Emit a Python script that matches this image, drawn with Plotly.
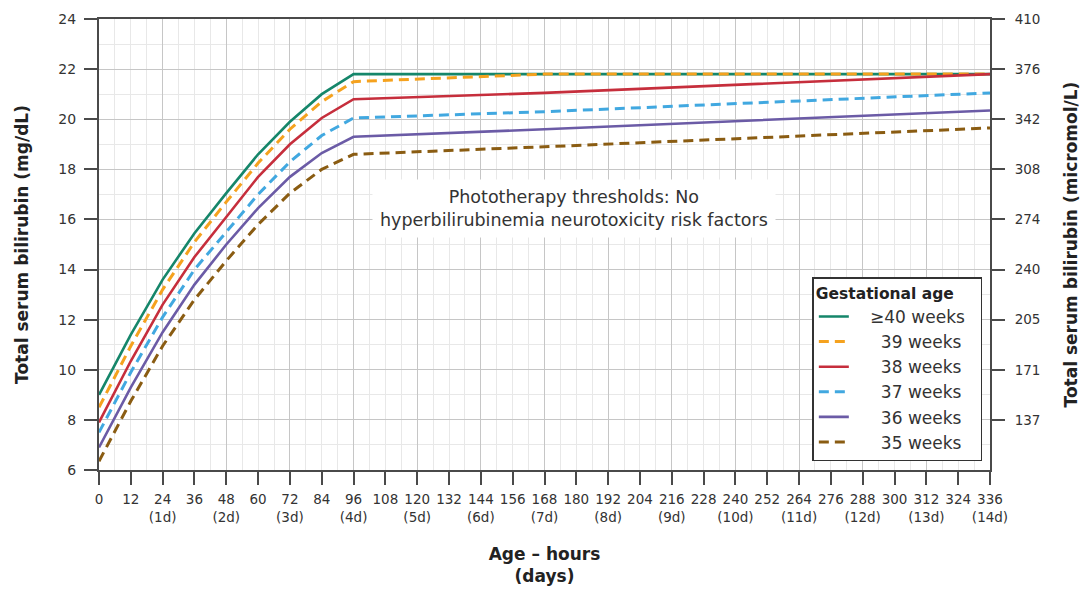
import plotly.graph_objects as go

# ---------------- data ----------------
hours = [0, 12, 24, 36, 48, 60, 72, 84, 96, 168, 336]

NB = "\u00a0"
series_names = [NB * 3 + "≥40 weeks" + NB * 2, NB * 5 + "39 weeks" + NB * 2, NB * 5 + "38 weeks" + NB * 2,
                NB * 5 + "37 weeks" + NB * 2, NB * 5 + "36 weeks" + NB * 2, NB * 5 + "35 weeks" + NB * 2]

tsb_40 = [9.0, 11.4, 13.6, 15.45, 17.05, 18.6, 19.9, 21.0, 21.8, 21.8, 21.8]
tsb_39 = [8.5, 10.95, 13.2, 15.1, 16.7, 18.25, 19.6, 20.7, 21.5, 21.8, 21.8]
tsb_38 = [7.9, 10.35, 12.6, 14.5, 16.1, 17.7, 19.0, 20.05, 20.8, 21.05, 21.8]
tsb_37 = [7.5, 9.9, 12.1, 14.0, 15.5, 17.0, 18.3, 19.35, 20.05, 20.3, 21.05]
tsb_36 = [6.9, 9.3, 11.5, 13.4, 15.0, 16.45, 17.7, 18.65, 19.3, 19.6, 20.35]
tsb_35 = [6.35, 8.75, 10.95, 12.8, 14.35, 15.8, 17.05, 18.0, 18.6, 18.9, 19.65]

x_tick_vals = list(range(0, 337, 12))
x_tick_text = [f"{h}<br>({h // 24}d)" if (h % 24 == 0 and h > 0) else str(h) for h in x_tick_vals]

y_tick_vals = [6, 8, 10, 12, 14, 16, 18, 20, 22, 24]
y2_tick_vals = [8, 10, 12, 14, 16, 18, 20, 22, 24]
y2_tick_text = ["137", "171", "205", "240", "274", "308", "342", "376", "410"]

# ---------------- style ----------------
FONT = "DejaVu Sans"
TXT = "#333333"
AXC = "#4a4a4a"
MAJOR_GRID = "#c6c6c6"
MINOR_GRID = "#e8e8e8"

styles = [
    dict(color="#15866a", dash="solid", width=2.6),
    dict(color="#f5a21e", dash="10px,6px", width=3),
    dict(color="#c62e3c", dash="solid", width=2.6),
    dict(color="#41a8e0", dash="10px,6px", width=3),
    dict(color="#6b5ba6", dash="solid", width=2.6),
    dict(color="#8a5c12", dash="10px,6px", width=3),
]
all_series = [tsb_40, tsb_39, tsb_38, tsb_37, tsb_36, tsb_35]
# axes for each trace (identical scales; secondary axes carry the 24 h grid and the micromol/L scale)
trace_axes = [("x", "y"), ("x", "y"), ("x2", "y"), ("x", "y"), ("x", "y2"), ("x", "y")]

fig = go.Figure()
for name, vals, st, (xa, ya) in zip(series_names, all_series, styles, trace_axes):
    fig.add_trace(go.Scatter(x=hours, y=vals, mode="lines", name=name,
                             line=st, hoverinfo="skip", xaxis=xa, yaxis=ya))

minor_x = [h for h in range(6, 336, 6) if h % 24 != 0]

# the page body adds an 8 px margin, so the figure is 8 px smaller and shifted accordingly
fig.update_layout(
    width=1081, height=587,
    margin=dict(l=91, r=99, t=11, b=125),
    paper_bgcolor="white", plot_bgcolor="white",
    font=dict(family=FONT, color=TXT, size=13),
    showlegend=True,
    legend=dict(
        x=0.8006, y=0.4273, xanchor="left", yanchor="top",
        bgcolor="white", bordercolor="#333333", borderwidth=1.5,
        font=dict(family=FONT, size=17, color=TXT),
        title=dict(text="<b>Gestational age</b>", font=dict(family=FONT, size=15.5, color="#222222"),
                   side="top"),
        itemwidth=30,
    ),
    xaxis=dict(
        range=[0, 336], tickmode="array", tickvals=x_tick_vals, ticktext=x_tick_text,
        tickangle=0, automargin=False,
        ticks="outside", ticklen=13, tickwidth=1.6, tickcolor=AXC,
        showline=True, linecolor=AXC, linewidth=2, mirror=True,
        showgrid=False, zeroline=False,
        tickfont=dict(family=FONT, size=13.5, color=TXT),
        ticklabelstandoff=3,
        minor=dict(tickmode="array", tickvals=minor_x, showgrid=True,
                   gridcolor=MINOR_GRID, gridwidth=1, ticks=""),
        title=dict(text="<b>Age – hours<br>(days)</b>", font=dict(family=FONT, size=17, color="#222222"),
                   standoff=24),
    ),
    xaxis2=dict(
        range=[0, 336], overlaying="x", anchor="y", side="bottom", automargin=False,
        tickmode="array", tickvals=list(range(0, 337, 24)),
        showgrid=True, gridcolor=MAJOR_GRID, gridwidth=1.3,
        showticklabels=False, ticks="", showline=False, zeroline=False,
    ),
    yaxis=dict(
        range=[6, 24], tickmode="array", tickvals=y_tick_vals, automargin=False,
        ticks="outside", ticklen=13, tickwidth=1.6, tickcolor=AXC,
        showline=True, linecolor=AXC, linewidth=2, mirror=True,
        showgrid=True, gridcolor=MAJOR_GRID, gridwidth=1.3, zeroline=False,
        tickfont=dict(family=FONT, size=14, color=TXT),
        ticklabelstandoff=5,
        minor=dict(dtick=1, tick0=6, showgrid=True, gridcolor=MINOR_GRID, gridwidth=1, ticks=""),
        title=dict(text="<b>Total serum bilirubin (mg/dL)</b>",
                   font=dict(family=FONT, size=17, color="#222222"), standoff=25),
    ),
    yaxis2=dict(
        range=[6, 24], overlaying="y", side="right", anchor="x", automargin=False,
        tickmode="array", tickvals=y2_tick_vals, ticktext=y2_tick_text,
        ticks="outside", ticklen=13, tickwidth=1.6, tickcolor=AXC,
        showline=True, linecolor=AXC, linewidth=2,
        showgrid=False, zeroline=False,
        tickfont=dict(family=FONT, size=13.5, color=TXT),
        ticklabelstandoff=7,
        title=dict(text="<b>Total serum bilirubin (micromol/L)</b>",
                   font=dict(family=FONT, size=17, color="#222222"), standoff=26),
    ),
)

fig.add_annotation(
    x=179, y=16.45, xref="x", yref="y",
    text="Phototherapy thresholds: No<br>hyperbilirubinemia neurotoxicity risk factors",
    showarrow=False, align="center", bgcolor="white", borderpad=7,
    font=dict(family=FONT, size=17.5, color=TXT),
)

fig.write_html("out.html")
